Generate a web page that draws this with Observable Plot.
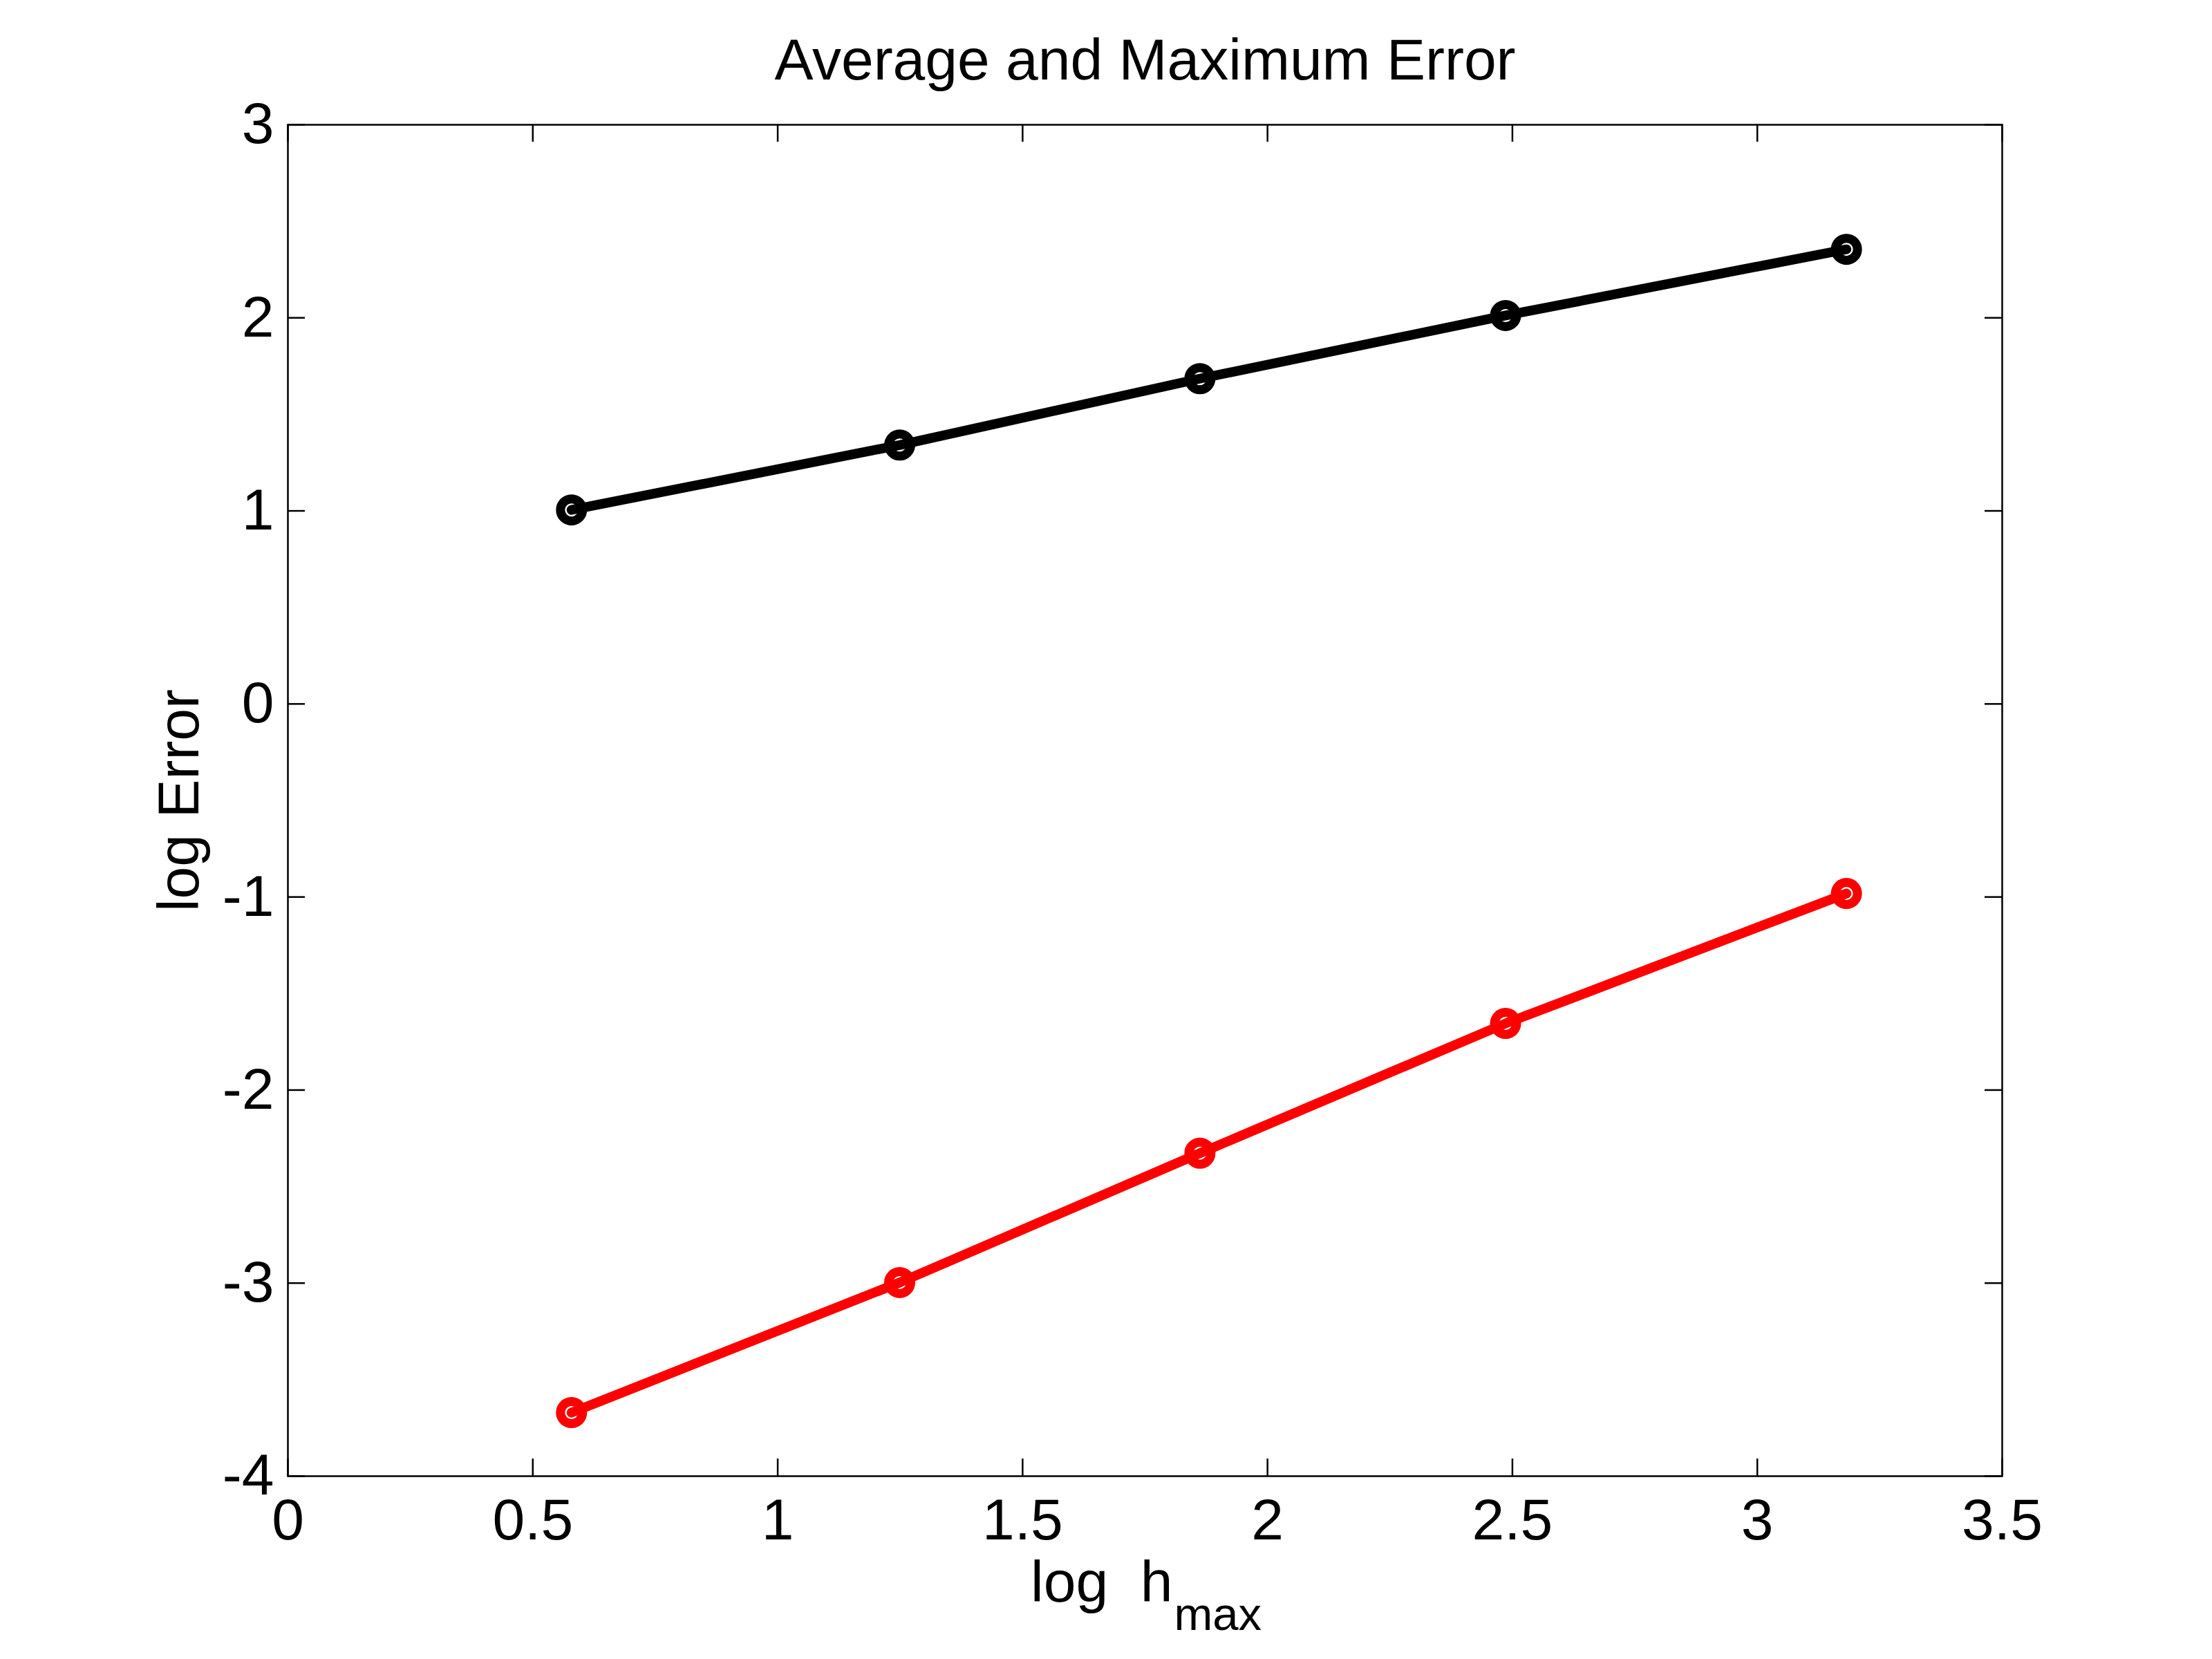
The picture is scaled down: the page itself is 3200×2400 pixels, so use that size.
<!DOCTYPE html>
<html>
<head>
<meta charset="utf-8">
<script src="https://cdn.jsdelivr.net/npm/d3@7"></script>
<script src="https://cdn.jsdelivr.net/npm/@observablehq/plot@0.6"></script>
<style>
  html, body { margin: 0; padding: 0; background: #fff; }
  svg text { white-space: pre; }
</style>
</head>
<body>
<div id="chart"></div>
<script>
// Data
const logH = [0.579, 1.249, 1.862, 2.486, 3.182];
const maxError = [1.005, 1.341, 1.685, 2.012, 2.355];   // black series
const avgError = [-3.671, -2.997, -2.327, -1.655, -0.982]; // red series
const xTicks = [0, 0.5, 1, 1.5, 2, 2.5, 3, 3.5];
const yTicks = [-4, -3, -2, -1, 0, 1, 2, 3];
const titleText = "Average and Maximum Error";
const yLabelText = "log Error";
const xLabelMain = "log  h";
const xLabelSub = "max";

const series = [
  ...logH.map((x, i) => ({x, y: maxError[i], s: "max"})),
  ...logH.map((x, i) => ({x, y: avgError[i], s: "avg"}))
];
const colors = {max: "#000000", avg: "#ff0000"};

const W = 3200, H = 2400;
const mL = 416, mR = 304, mT = 180, mB = 265;
const plotH = H - mT - mB, plotW = W - mL - mR;
const tickLen = 25;
const font = "Liberation Sans, Arial, Helvetica, sans-serif";

const chart = Plot.plot({
  width: W,
  height: H,
  marginLeft: mL,
  marginRight: mR,
  marginTop: mT,
  marginBottom: mB,
  style: {fontFamily: font, background: "#fff", color: "#000"},
  x: {domain: [0, 3.5]},
  y: {domain: [-4, 3]},
  marks: [
    Plot.axisX(xTicks, {anchor: "bottom", tickSize: 0, tickPadding: 32, fontSize: 84, label: null, tickFormat: d => String(d)}),
    Plot.axisY(yTicks, {anchor: "left", tickSize: 0, tickPadding: 20, fontSize: 84, label: null, tickFormat: d => String(d)}),
    // inward ticks on all four sides
    Plot.tickX(xTicks, {x: d => d, insetTop: plotH - tickLen, stroke: "#000", strokeWidth: 2.5}),
    Plot.tickX(xTicks, {x: d => d, insetBottom: plotH - tickLen, stroke: "#000", strokeWidth: 2.5}),
    Plot.tickY(yTicks, {y: d => d, insetRight: plotW - tickLen, stroke: "#000", strokeWidth: 2.5}),
    Plot.tickY(yTicks, {y: d => d, insetLeft: plotW - tickLen, stroke: "#000", strokeWidth: 2.5}),
    Plot.frame({stroke: "#000", strokeWidth: 2.5}),
    Plot.line(series, {x: "x", y: "y", z: "s", stroke: d => colors[d.s], strokeWidth: 14, strokeLinejoin: "round"}),
    Plot.dot(series, {x: "x", y: "y", r: 16, stroke: d => colors[d.s], strokeWidth: 13, fill: "none"}),
    // title
    Plot.text([titleText], {frameAnchor: "top", textAnchor: "middle", lineAnchor: "top", dy: -125, fontSize: 84, fill: "#000"}),
    // y label
    Plot.text([yLabelText], {frameAnchor: "left", textAnchor: "middle", rotate: -90, lineAnchor: "middle", dx: -156, fontSize: 84, fill: "#000"}),
    // x label with subscript
    Plot.text([xLabelMain], {frameAnchor: "bottom", textAnchor: "end", lineAnchor: "top", dx: 40, dy: 122, fontSize: 84, fill: "#000"}),
    Plot.text([xLabelSub], {frameAnchor: "bottom", textAnchor: "start", lineAnchor: "top", dx: 42, dy: 175, fontSize: 67, fill: "#000"})
  ]
});
document.getElementById("chart").appendChild(chart);
</script>
</body>
</html>
